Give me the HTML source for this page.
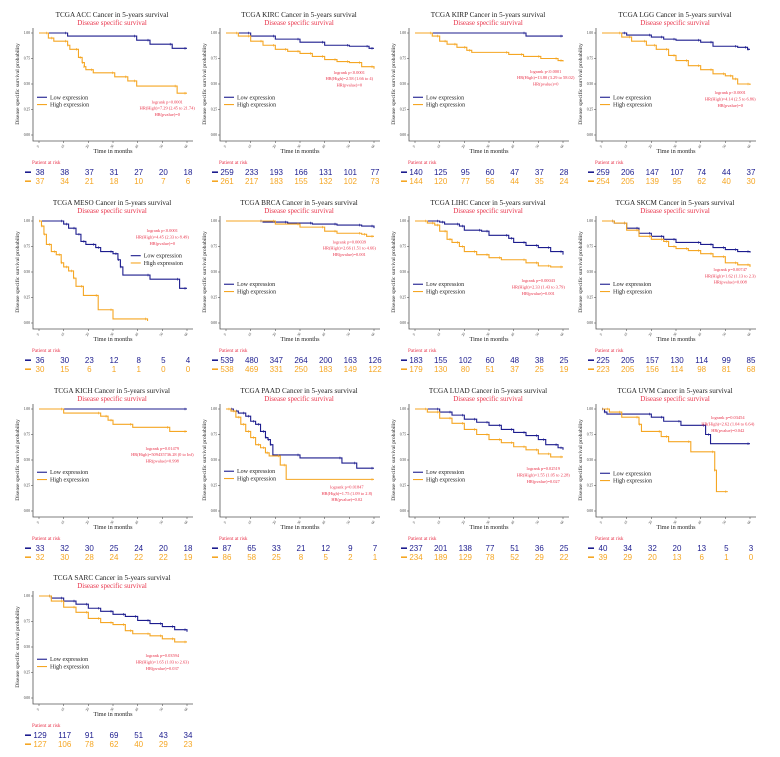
<!DOCTYPE html>
<html><head><meta charset="utf-8">
<style>
html,body{margin:0;padding:0;background:#fff;}
svg{display:block;}
text{font-family:"Liberation Serif",serif;}
.risk{font-family:"Liberation Sans",sans-serif;font-size:8px;}
</style></head>
<body>
<svg id="fig" width="780" height="757" viewBox="0 0 780 757"></svg>
<script>
const panelNames = ["ACC","KIRC","KIRP","LGG","MESO","BRCA","LIHC","SKCM","KICH","PAAD","LUAD","UVM","SARC"];
const timeTicks = [0,10,20,30,40,50,60];
const survTicks = [0,0.25,0.5,0.75,1];
const survTickLabels = ["0.00","0.25","0.50","0.75","1.00"];
const lowTimes = [
 [0,11.6,39.6,45,54,60],
 [0,10,20,30,40,50,58,60],
 [0,45,60],
 [0,10,20,25,30,40,45,55,59,60],
 [0,10,12,15,17,19,23,25,30,32,33,34,45,57,60],
 [0,15,25,35,45,55,60],
 [0,10,12,18,20,27,30,38,40,45,50,55,60],
 [0,5,10,15,20,25,30,40,45,50,55,60],
 [0,60],
 [0,3,5,8,10,12,14,16,17,18,19,30,47,53,60],
 [0,10,15,20,25,30,35,40,45,50,53,58,60],
 [0,1,2,20,25,32,42,44,60],
 [0,5,10,15,20,25,30,35,40,45,50,55,60]
];
const lowSurv = [
 [1,0.97,0.93,0.89,0.85,0.85],
 [1,0.97,0.94,0.91,0.88,0.87,0.85,0.85],
 [1,0.97,0.97],
 [1,0.98,0.96,0.94,0.93,0.91,0.87,0.86,0.84,0.84],
 [1,0.97,0.93,0.87,0.80,0.77,0.74,0.70,0.68,0.62,0.55,0.47,0.43,0.34,0.34],
 [1,0.99,0.98,0.97,0.96,0.95,0.93],
 [1,0.99,0.97,0.95,0.91,0.90,0.86,0.83,0.79,0.76,0.74,0.70,0.67],
 [1,0.98,0.93,0.88,0.85,0.82,0.79,0.77,0.74,0.72,0.70,0.69],
 [1,1],
 [1,0.98,0.96,0.93,0.88,0.85,0.78,0.72,0.70,0.65,0.55,0.52,0.47,0.42,0.42],
 [1,0.97,0.94,0.90,0.87,0.84,0.80,0.77,0.74,0.70,0.65,0.62,0.60],
 [1,0.97,0.95,0.92,0.88,0.84,0.75,0.66,0.66],
 [1,0.98,0.95,0.92,0.88,0.85,0.82,0.80,0.76,0.73,0.70,0.67,0.65]
];
const highTimes = [
 [0,3.8,6,11.6,12.5,16,17.5,18.4,19,22,30.7,36,39.6,56,60],
 [0,5,10,15,20,25,30,35,40,45,50,55,60],
 [0,7,10,13,17,21,23,38,44,51,58,60],
 [0,8,12,18,22,27,30,35,40,45,50,53,55,60],
 [0,1,2,3,5,7,9,10,12,14,15,18,24,30,44],
 [0,20,30,40,45,55,57,60],
 [0,5,8,10,13,15,18,20,25,30,35,45,50,55,60],
 [0,5,10,15,20,25,27,30,35,40,45,50,55,60],
 [0,10,25,28,30,38,53,60],
 [0,2,4,6,8,10,12,14,16,17.5,22,24.4,60],
 [0,5,10,15,20,25,30,35,40,45,50,55,60],
 [0,3,8,15,16,24,27,36,45.7,46.4,51],
 [0,5,10,15,20,25,30,35,38,45,50,55,60]
];
const highSurv = [
 [1,0.95,0.92,0.88,0.84,0.76,0.71,0.67,0.64,0.61,0.57,0.53,0.48,0.41,0.41],
 [1,0.97,0.92,0.88,0.84,0.82,0.80,0.77,0.74,0.72,0.71,0.67,0.65],
 [1,0.97,0.92,0.89,0.86,0.83,0.81,0.79,0.77,0.75,0.73,0.72],
 [1,0.96,0.92,0.88,0.84,0.78,0.73,0.68,0.64,0.60,0.58,0.55,0.50,0.49],
 [1,0.95,0.87,0.77,0.70,0.67,0.59,0.55,0.51,0.44,0.36,0.27,0.13,0.04,0.02],
 [1,0.97,0.94,0.90,0.88,0.87,0.85,0.85],
 [1,0.98,0.96,0.90,0.82,0.79,0.75,0.70,0.67,0.64,0.62,0.59,0.56,0.55,0.55],
 [1,0.98,0.91,0.85,0.82,0.80,0.75,0.73,0.71,0.68,0.65,0.59,0.57,0.55],
 [1,0.96,0.93,0.89,0.85,0.82,0.78,0.78],
 [1,0.98,0.92,0.85,0.78,0.72,0.65,0.62,0.57,0.54,0.45,0.31,0.31],
 [1,0.97,0.91,0.86,0.80,0.75,0.70,0.67,0.63,0.60,0.56,0.53,0.53],
 [1,0.97,0.92,0.85,0.78,0.73,0.68,0.58,0.40,0.19,0.19],
 [1,0.95,0.89,0.84,0.78,0.74,0.72,0.66,0.63,0.61,0.58,0.55,0.55]
];
const riskLow = [
 [38,38,37,31,27,20,18],[259,233,193,166,131,101,77],[140,125,95,60,47,37,28],[259,206,147,107,74,44,37],
 [36,30,23,12,8,5,4],[539,480,347,264,200,163,126],[183,155,102,60,48,38,25],[225,205,157,130,114,99,85],
 [33,32,30,25,24,20,18],[87,65,33,21,12,9,7],[237,201,138,77,51,36,25],[40,34,32,20,13,5,3],
 [129,117,91,69,51,43,34]
];
const riskHigh = [
 [37,34,21,18,10,7,6],[261,217,183,155,132,102,73],[144,120,77,56,44,35,24],[254,205,139,95,62,40,30],
 [30,15,6,1,1,0,0],[538,469,331,250,183,149,122],[179,130,80,51,37,25,19],[223,205,156,114,98,81,68],
 [32,30,28,24,22,22,19],[86,58,25,8,5,2,1],[234,189,129,78,52,29,22],[39,29,20,13,6,1,0],
 [127,106,78,62,40,29,23]
];
const annotations = [
 ["logrank p<0.0001","HR(High)=7.29 (2.45 to 21.74)","HR(pvalue)=0"],
 ["logrank p<0.0001","HR(High)=2.58 (1.66 to 4)","HR(pvalue)=0"],
 ["logrank p<0.0001","HR(High)=13.80 (3.29 to 58.02)","HR(pvalue)=0"],
 ["logrank p<0.0001","HR(High)=4.14 (2.5 to 6.86)","HR(pvalue)=0"],
 ["logrank p<0.0001","HR(High)=4.45 (2.33 to 8.49)","HR(pvalue)=0"],
 ["logrank p=0.00039","HR(High)=2.66 (1.51 to 4.66)","HR(pvalue)=0.001"],
 ["logrank p=0.00043","HR(High)=2.33 (1.43 to 3.79)","HR(pvalue)=0.001"],
 ["logrank p=0.00747","HR(High)=1.62 (1.13 to 2.3)","HR(pvalue)=0.008"],
 ["logrank p=0.01479","HR(High)=509435736.28 (0 to Inf)","HR(pvalue)=0.998"],
 ["logrank p=0.01847","HR(High)=1.75 (1.09 to 2.8)","HR(pvalue)=0.02"],
 ["logrank p=0.02519","HR(High)=1.55 (1.05 to 2.28)","HR(pvalue)=0.027"],
 ["logrank p=0.03454","HR(High)=2.62 (1.04 to 6.64)","HR(pvalue)=0.042"],
 ["logrank p=0.03594","HR(High)=1.65 (1.03 to 2.63)","HR(pvalue)=0.037"]
];
const annotT = [52,50,53,52,50,50,50,52,50,49,52,51,50];
const annotS = [0.31,0.60,0.61,0.40,0.89,0.78,0.40,0.51,0.60,0.22,0.40,0.90,0.40];
const legendT = [0,0,0,0,38,0,0,0,0,0,0,0,0];
const legendS = [0.37,0.37,0.37,0.37,0.66,0.38,0.38,0.38,0.38,0.39,0.38,0.37,0.38];

const NS = "http://www.w3.org/2000/svg";
const svg = document.getElementById("fig");
const LOW = "#1c1c8e", HIGH = "#f5a623", RED = "#e8334a";
const colX0 = [39,226,415,602], rowY0 = [0,188,376,563];
function mk(tag, attrs, parent, txt){
  const e = document.createElementNS(NS, tag);
  for (const k in attrs) e.setAttribute(k, attrs[k]);
  if (txt !== undefined) e.textContent = txt;
  (parent||svg).appendChild(e);
  return e;
}
panelNames.forEach((nm, p) => {
  const X0 = colX0[p%4], R = rowY0[Math.floor(p/4)];
  const W = 148, yTop = R+33, yBot = R+135;
  const xs = t => X0 + t/60*W;
  const ys = s => yBot - s*(yBot-yTop);
  const g = mk("g", {});
  
  
  const t1 = mk("text", {x:X0+73, y:R+17, "font-size":7.2, "text-anchor":"middle", fill:"#222"}, g, "TCGA "+nm+" Cancer in 5-years survival");
  
  
  const t2 = mk("text", {x:X0+73, y:R+25, "font-size":7, "text-anchor":"middle", fill:RED}, g, "Disease specific survival");
  
  
  const ax = mk("path", {d:`M${X0-6} ${R+28} V${R+141} H${X0+154}`, stroke:"#555", "stroke-width":0.8, fill:"none"}, g);
  
  
  survTicks.forEach((s,i) => {
    mk("line", {x1:X0-8, x2:X0-6, y1:ys(s), y2:ys(s), stroke:"#555", "stroke-width":0.6}, g);
    const tl = mk("text", {x:X0-9, y:ys(s)+1.2, "font-size":3.6, "text-anchor":"end", fill:"#333"}, g, survTickLabels[i]);
    
    
  });
  timeTicks.forEach(t => {
    mk("line", {x1:xs(t), x2:xs(t), y1:R+141, y2:R+143, stroke:"#555", "stroke-width":0.6}, g);
    const tl = mk("text", {x:xs(t), y:R+147, "font-size":3.6, "text-anchor":"middle", fill:"#333", transform:`rotate(-60 ${xs(t)} ${R+147})`}, g, String(t));
    
    
  });
  const xl = mk("text", {x:X0+74, y:R+153, "font-size":6.2, "text-anchor":"middle", fill:"#222"}, g, "Time in months");
  
  
  const yl = mk("text", {x:X0-20, y:R+84, "font-size":5.6, "text-anchor":"middle", fill:"#222", transform:`rotate(-90 ${X0-20} ${R+84})`}, g, "Disease specific survival probability");
  
  
  // curves
  [[lowTimes[p], lowSurv[p], LOW, 'low'], [highTimes[p], highSurv[p], HIGH, 'high']].forEach(([T,S,c,k]) => {
    let d = `M${xs(T[0])} ${ys(S[0])}`;
    for (let i=1;i<T.length;i++) d += ` H${xs(T[i])} V${ys(S[i])}`;
    const pa = mk("path", {d, stroke:c, "stroke-width":1.1, fill:"none"}, g);
    
    
    for (let i=1;i<T.length;i++){
      const m = mk("line", {x1:xs(T[i])-2, x2:xs(T[i])-2, y1:ys(S[i-1])-1.3, y2:ys(S[i-1])+1.3, stroke:c, "stroke-width":0.6}, g);
      
      
    }
  });
  // legend
  const lx = xs(legendT[p]), ly = ys(legendS[p]);
  [["Low expression",LOW],["High expression",HIGH]].forEach(([lab,c],i) => {
    const y = ly + i*7.3;
    mk("line", {x1:lx-2, x2:lx+8, y1:y, y2:y, stroke:c, "stroke-width":1.1}, g);
    const lt = mk("text", {x:lx+11, y:y+2, "font-size":6, fill:"#222"}, g, lab);
    
    
  });
  // annotation
  annotations[p].forEach((line,i) => {
    const at = mk("text", {x:xs(annotT[p]), y:ys(annotS[p])+i*6.3, "font-size":4.4, "text-anchor":"middle", fill:RED}, g, line);
    
    
  });
  // risk table
  const pr = mk("text", {x:X0-7, y:R+164, "font-size":5.2, fill:RED}, g, "Patient at risk");
  
  
  [[riskLow[p], LOW, R+175],[riskHigh[p], HIGH, R+184]].forEach(([vals,c,y]) => {
    mk("line", {x1:X0-14, x2:X0-8, y1:y-2.8, y2:y-2.8, stroke:c, "stroke-width":1.6}, g);
    vals.forEach((v,i) => {
      const rt = mk("text", {x:xs(timeTicks[i])+1, y, class:"risk", "text-anchor":"middle", fill:c}, g, String(v));
      
      
    });
  });
});
</script>
</body></html>
